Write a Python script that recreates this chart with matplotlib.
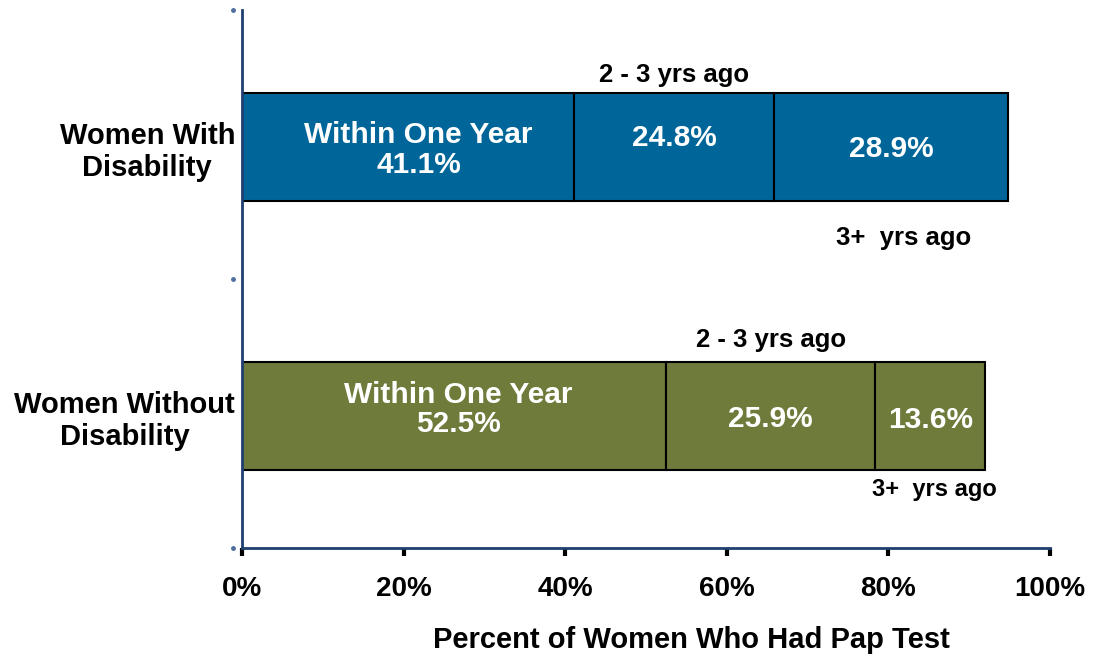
import matplotlib.pyplot as plt
from matplotlib.transforms import blended_transform_factory

plt.rcParams['font.family'] = ['Liberation Sans', 'DejaVu Sans']
plt.rcParams['font.weight'] = 'bold'

groups = ['Women Without\nDisability', 'Women With\nDisability']
within_year = [52.5, 41.1]
two_three = [25.9, 24.8]
three_plus = [13.6, 28.9]
colors = ['#6E7B3B', '#006699']
xticks = [0, 20, 40, 60, 80, 100]

fig = plt.figure(figsize=(11, 6.56), dpi=100)
ax = fig.add_axes([0.22, 0.1646, 0.7345, 0.82])

ypos = [0.49, 1.49]
h = 0.40
# small per-row nudges so the labels sit like in the original slide
first_dx = [0.5, 1.3]
first_dy = [0.026, -0.01]
mid_dy = [-0.012, 0.035]
last_dy = [-0.015, -0.005]
top_dy = [0.285, 0.27]
low_dy = [-0.272, -0.338]
low_fs = [17, 18.5]

for i in range(2):
    segs = [within_year[i], two_three[i], three_plus[i]]
    left = 0
    for s in segs:
        ax.barh(ypos[i], s, left=left, height=h, color=colors[i],
                edgecolor='black', linewidth=1.5)
        left += s

    y = ypos[i]
    a, b, c = within_year[i], two_three[i], three_plus[i]
    ax.text(a / 2 + first_dx[i], y + first_dy[i], 'Within One Year\n%.1f%%' % a,
            color='white', fontsize=21.5, ha='center', va='center',
            multialignment='center', linespacing=1.05)
    ax.text(a + b / 2, y + mid_dy[i], '%.1f%%' % b,
            color='white', fontsize=21.5, ha='center', va='center')
    ax.text(a + b + c / 2, y + last_dy[i], '%.1f%%' % c, color='white',
            fontsize=21.5, ha='center', va='center')
    ax.text(a + b / 2, y + top_dy[i], '2 - 3 yrs ago', fontsize=18.5,
            ha='center', va='center')
    ax.text(a + b + c / 2 + (1.5 if i == 1 else 0.5), y + low_dy[i],
            '3+  yrs ago', fontsize=low_fs[i], ha='center', va='center')

ax.set_xlim(0, 100)
ax.set_ylim(0, 2)
ax.set_xticks(xticks)
ax.set_xticklabels(['%d%%' % t for t in xticks], fontsize=20)
ax.tick_params(axis='x', direction='out', length=6, width=3, color='black', pad=14)

ax.set_yticks(ypos)
ax.set_yticklabels(groups, fontsize=21, multialignment='center', linespacing=1.15)
ax.tick_params(axis='y', length=0, pad=5)

# small dots beside the left axis
tr = blended_transform_factory(ax.transAxes, ax.transData)
ax.plot([-0.011] * 3, [0, 1, 2], 'o', ms=2.5, color='#4F6F9F',
        transform=tr, clip_on=False)

for side in ['top', 'right']:
    ax.spines[side].set_visible(False)
ax.spines['left'].set_color('#1F3F6F')
ax.spines['left'].set_linewidth(2)
ax.spines['bottom'].set_color('#1F3F6F')
ax.spines['bottom'].set_linewidth(2)

ax.set_xlabel('Percent of Women Who Had Pap Test', fontsize=21,
              fontweight='bold', va='center')
ax.xaxis.set_label_coords(0.556, -0.171)

fig.savefig('out.png', dpi=100)
